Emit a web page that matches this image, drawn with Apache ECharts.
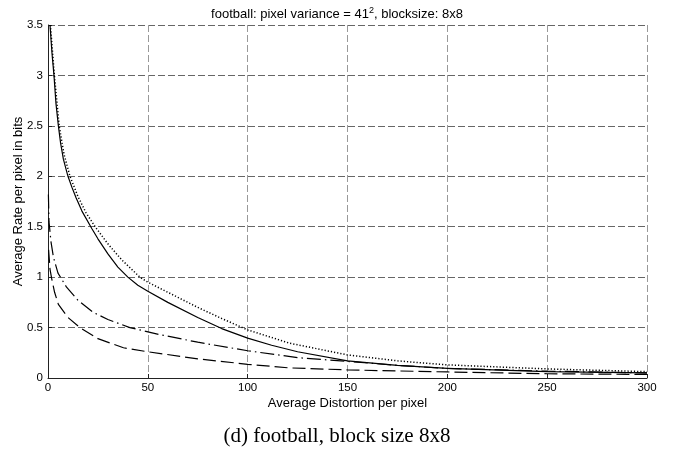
<!DOCTYPE html>
<html>
<head>
<meta charset="utf-8">
<script src="https://cdn.jsdelivr.net/npm/echarts@6/dist/echarts.min.js"></script>
<style>
html,body{margin:0;padding:0;background:#fff;}
#chart{width:674px;height:452px;}
</style>
</head>
<body>
<div id="chart"></div>
<script>
// Tick settings
const xTicks = [0, 50, 100, 150, 200, 250, 300];
const yTicks = [0, 0.5, 1, 1.5, 2, 2.5, 3, 3.5];

// Solid curve
const solidX = [1, 2, 3, 4, 5.2, 6.3, 7.7, 10, 12, 14, 17, 22, 25, 30, 35, 40, 45, 50, 60, 75, 87, 100, 112, 125, 150, 175, 200, 250, 300];
const solidY = [3.5, 3.22, 3.0, 2.72, 2.5, 2.33, 2.17, 2.0, 1.89, 1.79, 1.655, 1.48, 1.38, 1.23, 1.1, 1.0, 0.92, 0.86, 0.75, 0.6, 0.49, 0.395, 0.325, 0.26, 0.17, 0.125, 0.095, 0.063, 0.05];

// Dotted curve
const dottedX = [1.2, 3.2, 5.6, 8, 11, 15, 19, 23.6, 30, 37, 46, 50, 56, 65, 75, 87, 100, 121, 150, 175, 200, 250, 300];
const dottedY = [3.5, 3.0, 2.5, 2.22, 2.0, 1.8, 1.64, 1.5, 1.33, 1.17, 1.0, 0.95, 0.89, 0.8, 0.7, 0.59, 0.477, 0.345, 0.229, 0.17, 0.13, 0.09, 0.063];

// Dash-dot curve
const dashDotX = [0.2, 0.5, 1.5, 2.7, 5, 9.3, 15, 22.7, 30, 41, 56, 75, 100, 126, 150, 175, 200, 250, 300];
const dashDotY = [1.82, 1.55, 1.35, 1.2, 1.04, 0.9, 0.77, 0.65, 0.58, 0.5, 0.43, 0.355, 0.27, 0.2, 0.165, 0.125, 0.095, 0.068, 0.05];

// Dashed curve
const dashedX = [0.3, 1, 1.8, 3.3, 5.2, 10, 16, 25, 37.8, 50, 75, 100, 121, 150, 175, 200, 250, 300];
const dashedY = [1.27, 1.08, 0.99, 0.85, 0.73, 0.6, 0.5, 0.39, 0.3, 0.26, 0.19, 0.136, 0.1, 0.08, 0.07, 0.06, 0.042, 0.035];

const zip = (xs, ys) => xs.map((x, i) => [x, ys[i]]);

const chart = echarts.init(document.getElementById('chart'), null, {renderer: 'canvas'});
const font = '"Liberation Sans", Arial, Helvetica, sans-serif';

const lineBase = {
  type: 'line',
  showSymbol: false,
  symbol: 'none',
  smooth: false,
  animation: false,
  clip: true
};

chart.setOption({
  animation: false,
  backgroundColor: '#fff',
  title: [{
    text: 'football: pixel variance = 41{sup|2}, blocksize: 8x8',
    left: 'center',
    top: 1,
    textStyle: {
      fontFamily: font, fontSize: 13, fontWeight: 'normal', color: '#000',
      rich: { sup: { fontSize: 9, verticalAlign: 'top', padding: [0, 0, 7, 0], fontFamily: font, color: '#000' } }
    }
  }, {
    text: '(d) football, block size 8x8',
    left: 'center',
    top: 421,
    textStyle: { fontFamily: '"Liberation Serif", "Times New Roman", serif', fontSize: 21, fontWeight: 'normal', color: '#000' }
  }],
  grid: { left: 48, right: 27, top: 25, bottom: 74, containLabel: false, outerBoundsMode: 'none' },
  xAxis: {
    type: 'value', min: xTicks[0], max: xTicks[xTicks.length - 1], interval: 50,
    name: 'Average Distortion per pixel', nameLocation: 'middle', nameGap: 19, nameMoveOverlap: false,
    nameTextStyle: { fontFamily: font, fontSize: 13, color: '#000' },
    axisLine: { show: true, lineStyle: { color: '#222', width: 1 } },
    axisTick: { show: true, inside: true, length: 4, lineStyle: { color: '#222' } },
    axisLabel: { fontFamily: font, fontSize: 11.5, color: '#000', margin: 4 },
    splitLine: { show: true, lineStyle: { color: '#999', type: [7, 3], width: 1 } }
  },
  yAxis: {
    type: 'value', min: yTicks[0], max: yTicks[yTicks.length - 1], interval: 0.5,
    name: 'Average Rate per pixel in bits', nameLocation: 'middle', nameGap: 23, nameMoveOverlap: false,
    nameTextStyle: { fontFamily: font, fontSize: 13, color: '#000' },
    axisLine: { show: true, lineStyle: { color: '#222', width: 1 } },
    axisTick: { show: true, inside: true, length: 4, lineStyle: { color: '#222' } },
    axisLabel: { fontFamily: font, fontSize: 11.5, color: '#000', margin: 5 },
    splitLine: { show: true, lineStyle: { color: '#666', type: [7, 3], width: 1 } }
  },
  series: [
    Object.assign({}, lineBase, { name: 'solid', data: zip(solidX, solidY), lineStyle: { color: '#000', width: 1.2, type: 'solid' } }),
    Object.assign({}, lineBase, { name: 'dotted', data: zip(dottedX, dottedY), lineStyle: { color: '#000', width: 1.5, type: [1.2, 2] } }),
    Object.assign({}, lineBase, { name: 'dashdot', data: zip(dashDotX, dashDotY), lineStyle: { color: '#000', width: 1.2, type: [14, 4, 1.5, 4] } }),
    Object.assign({}, lineBase, { name: 'dashed', data: zip(dashedX, dashedY), lineStyle: { color: '#000', width: 1.2, type: [13, 5] } })
  ]
});
</script>
</body>
</html>
